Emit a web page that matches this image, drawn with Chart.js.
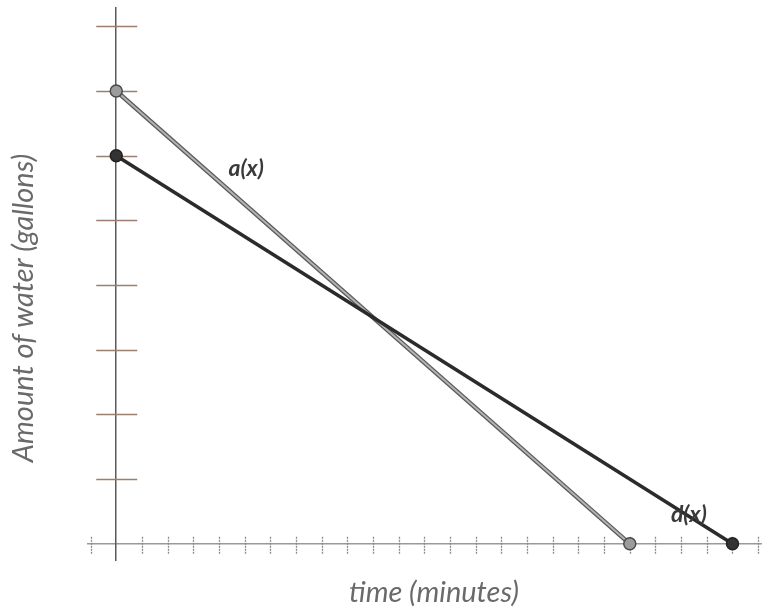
<!DOCTYPE html>
<html>
<head>
<meta charset="utf-8">
<script src="https://cdn.jsdelivr.net/npm/chart.js@4"></script>
<style>
  html, body { margin: 0; padding: 0; background: #fff; overflow: hidden; }
  #wrap { width: 769px; height: 608px; }
</style>
</head>
<body>
<div id="wrap"><canvas id="water-chart"></canvas></div>
<script>
// data
const timeA = [0, 20];
const waterA = [7, 0];
const timeD = [0, 24];
const waterD = [6, 0];
const seriesNames = ['a(x)', 'd(x)'];
const xTitle = 'time (minutes)';
const yTitle = 'Amount of water (gallons)';

const pointsA = timeA.map((t, i) => ({ x: t, y: waterA[i] }));
const pointsD = timeD.map((t, i) => ({ x: t, y: waterD[i] }));

// tick marks that cross the axes + text labels
const axisMarks = {
  id: 'axisMarks',
  beforeDatasetsDraw(chart) {
    const { ctx, scales: { x, y } } = chart;
    const x0 = x.getPixelForValue(0);
    const y0 = y.getPixelForValue(0);
    ctx.save();
    ctx.lineWidth = 1.4;
    ctx.strokeStyle = '#9a7f6e';
    y.ticks.forEach(t => {
      if (t.value === 0) return;
      const py = Math.round(y.getPixelForValue(t.value)) + 0.5;
      ctx.beginPath();
      ctx.moveTo(x0 - 20, py);
      ctx.lineTo(x0 + 21, py);
      ctx.stroke();
    });
    ctx.strokeStyle = '#8a8a8a';
    ctx.lineWidth = 1.3;
    ctx.setLineDash([2, 1]);
    x.ticks.forEach(t => {
      if (t.value === 0) return;
      const px = Math.round(x.getPixelForValue(t.value)) + 0.5;
      ctx.beginPath();
      ctx.moveTo(px, y0 - 7);
      ctx.lineTo(px, y0 + 10);
      ctx.stroke();
    });
    ctx.restore();
  },
  afterDatasetsDraw(chart) {
    const { ctx, scales: { x, y } } = chart;
    ctx.save();
    ctx.fillStyle = '#3a3a3a';
    ctx.font = 'italic bold 23px Lato';
    ctx.textAlign = 'center';
    ctx.textBaseline = 'middle';
    ctx.fillText(seriesNames[0], x.getPixelForValue(5.06), y.getPixelForValue(5.8));
    ctx.fillText(seriesNames[1], x.getPixelForValue(22.3), y.getPixelForValue(0.45));

    ctx.fillStyle = '#6a6a6a';
    ctx.font = 'italic 29px Lato';
    ctx.fillText(xTitle, 434, 593);
    ctx.translate(24, 308);
    ctx.rotate(-Math.PI / 2);
    ctx.fillText(yTitle, 0, 0);
    ctx.restore();
  }
};

new Chart(document.getElementById('water-chart'), {
  type: 'scatter',
  data: {
    datasets: [
      {
        label: seriesNames[0],
        data: pointsA,
        showLine: true,
        borderColor: '#b3b3b3',
        borderWidth: 2,
        pointRadius: 6,
        pointBackgroundColor: '#9c9c9c',
        pointBorderColor: '#4a4a4a',
        pointBorderWidth: 1.5,
        order: 1
      },
      {
        label: seriesNames[0] + ' edge',
        data: pointsA,
        showLine: true,
        borderColor: '#5a5a5a',
        borderWidth: 4.5,
        pointRadius: 0,
        order: 2
      },
      {
        label: seriesNames[1],
        data: pointsD,
        showLine: true,
        borderColor: '#2b2b2b',
        borderWidth: 3.5,
        pointRadius: 6,
        pointBackgroundColor: '#333333',
        pointBorderColor: '#222222',
        pointBorderWidth: 1.5,
        order: 0
      }
    ]
  },
  options: {
    responsive: true,
    maintainAspectRatio: false,
    animation: false,
    layout: { padding: { left: 88, right: 0, top: 7, bottom: 48 } },
    plugins: {
      legend: { display: false },
      tooltip: { enabled: false }
    },
    scales: {
      x: {
        type: 'linear',
        min: -1.1,
        max: 25.13,
        position: { y: 0 },
        ticks: { display: false, stepSize: 1, includeBounds: false },
        grid: { display: false },
        border: { display: true, color: '#9a9a9a', width: 1.5, dash: [2, 1] }
      },
      y: {
        type: 'linear',
        min: -0.25,
        max: 8.29,
        position: { x: 0 },
        ticks: { display: false, stepSize: 1, includeBounds: false },
        grid: { display: false },
        border: { display: true, color: '#5a5a5a', width: 1.5 }
      }
    }
  },
  plugins: [axisMarks]
});
</script>
</body>
</html>
